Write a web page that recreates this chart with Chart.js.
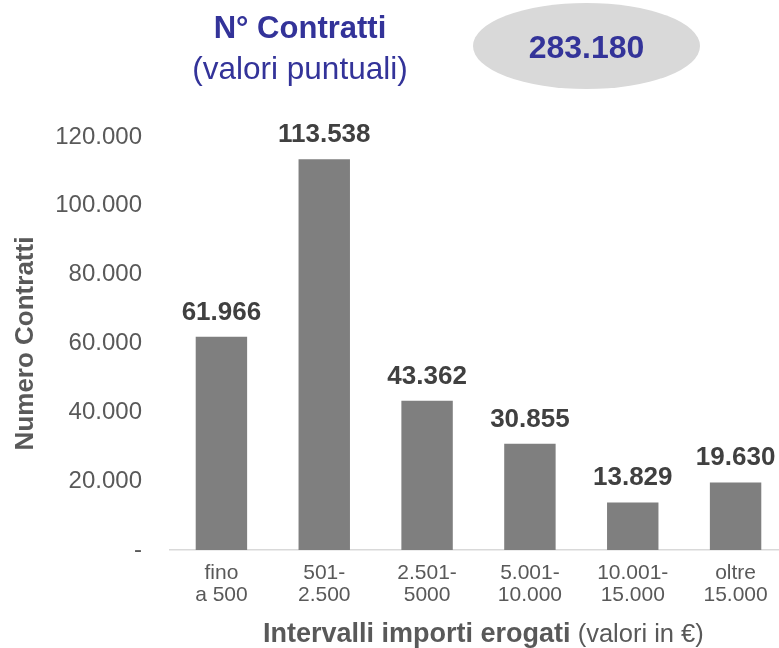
<!DOCTYPE html>
<html>
<head>
<meta charset="utf-8">
<script src="https://cdn.jsdelivr.net/npm/chart.js@4.4.1/dist/chart.umd.min.js"></script>
<style>
  html, body { margin: 0; padding: 0; background: #ffffff; overflow: hidden; }
  #wrap { position: relative; width: 779px; height: 648px; overflow: hidden; font-family: "Liberation Sans", Arial, sans-serif; }
  #c { position: absolute; left: 0; top: 0; }
  .t { position: absolute; white-space: nowrap; color: #333399; }
  #t1 { left: 150px; width: 300px; text-align: center; top: 12px; font-size: 31px; line-height: 31px; font-weight: bold; }
  #t2 { left: 150px; width: 300px; text-align: center; top: 53px; font-size: 31.5px; line-height: 31.5px; }
  #ell { position: absolute; left: 473px; top: 3px; width: 227px; height: 86px; border-radius: 50%; background: #d9d9d9; }
  #tot { left: 473px; width: 227px; text-align: center; top: 31px; font-size: 32px; line-height: 32px; font-weight: bold; }
  #xt { position: absolute; left: 263px; top: 620px; white-space: nowrap; color: #595959; line-height: 27px; }
  #xt b { font-size: 27px; }
  #xt span { font-size: 25.5px; }
</style>
</head>
<body>
<div id="wrap">
  <canvas id="c" width="790" height="648" style="width:790px;height:648px"></canvas>
  <div class="t" id="t1">N° Contratti</div>
  <div class="t" id="t2">(valori puntuali)</div>
  <div id="ell"></div>
  <div class="t" id="tot"></div>
  <div id="xt"><b>Intervalli importi erogati</b><span> (valori in €)</span></div>
</div>
<script>
const categories = [
  ['fino', 'a 500'],
  ['501-', '2.500'],
  ['2.501-', '5000'],
  ['5.001-', '10.000'],
  ['10.001-', '15.000'],
  ['oltre', '15.000']
];
const contratti = [61966, 113538, 43362, 30855, 13829, 19630];
const totale = 283180;
const yMin = 0, yMax = 120000, yStep = 20000;

function fmt(n) {
  return String(Math.round(n)).replace(/\B(?=(\d{3})+(?!\d))/g, '.');
}
document.getElementById('tot').textContent = fmt(totale);

const valueLabels = {
  id: 'valueLabels',
  afterDatasetsDraw(chart) {
    const ctx = chart.ctx;
    const meta = chart.getDatasetMeta(0);
    ctx.save();
    ctx.font = 'bold 26px "Liberation Sans", Arial, sans-serif';
    ctx.fillStyle = '#404040';
    ctx.textAlign = 'center';
    ctx.textBaseline = 'alphabetic';
    meta.data.forEach((bar, i) => {
      ctx.fillText(fmt(chart.data.datasets[0].data[i]), bar.x, bar.y - 17);
    });
    ctx.restore();
  }
};

new Chart(document.getElementById('c'), {
  type: 'bar',
  data: {
    labels: categories,
    datasets: [{
      data: contratti,
      backgroundColor: '#7f7f7f',
      borderWidth: 0,
      barPercentage: 0.5,
      categoryPercentage: 1.0
    }]
  },
  options: {
    responsive: false,
    animation: false,
    layout: { padding: { top: 137, right: 3, left: 0, bottom: 0 } },
    plugins: { legend: { display: false }, tooltip: { enabled: false } },
    scales: {
      x: {
        grid: { display: false, drawTicks: false },
        border: { display: true, color: '#d9d9d9', width: 1.5 },
        ticks: {
          color: '#595959',
          padding: 12,
          maxRotation: 0,
          autoSkip: false,
          font: { family: '"Liberation Sans", Arial, sans-serif', size: 21, lineHeight: '22px' }
        },
        afterFit(scale) { scale.height = 98; }
      },
      y: {
        min: yMin,
        max: yMax,
        grid: { display: false, drawTicks: false },
        border: { display: false },
        ticks: {
          stepSize: yStep,
          color: '#595959',
          padding: 28,
          font: { family: '"Liberation Sans", Arial, sans-serif', size: 24 },
          callback: (v) => v === 0 ? '-' : fmt(v)
        },
        title: {
          display: true,
          text: 'Numero Contratti',
          color: '#595959',
          padding: { top: 10, bottom: 0 },
          font: { family: '"Liberation Sans", Arial, sans-serif', size: 26, weight: 'bold' }
        },
        afterFit(scale) { scale.width = 170; }
      }
    }
  },
  plugins: [valueLabels]
});
</script>
</body>
</html>
